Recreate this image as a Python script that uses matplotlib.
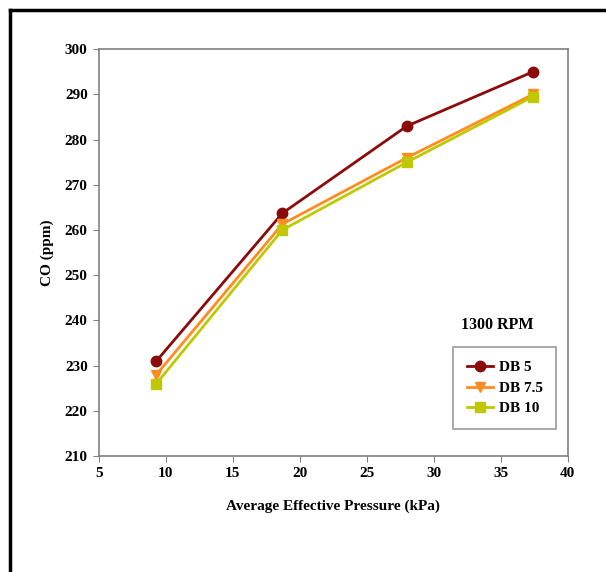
import matplotlib.pyplot as plt
from matplotlib.lines import Line2D

# data
pressure = [9.3, 18.7, 28.0, 37.4]
co_db5 = [231.0, 263.7, 283.0, 295.0]
co_db75 = [228.0, 261.3, 276.0, 290.0]
co_db10 = [226.0, 260.0, 275.0, 289.5]
series_labels = ["DB 5", "DB 7.5", "DB 10"]
x_ticks = [5, 10, 15, 20, 25, 30, 35, 40]
y_ticks = [210, 220, 230, 240, 250, 260, 270, 280, 290, 300]

plt.rcParams['font.family'] = ['Liberation Serif', 'DejaVu Serif']
plt.rcParams['font.weight'] = 'bold'

fig = plt.figure(figsize=(6.06, 5.72), dpi=100)
ax = fig.add_axes([0.163, 0.203, 0.774, 0.711])

ax.plot(pressure, co_db5, color='#8b0a0a', lw=2, marker='o', ms=7.5, label=series_labels[0])
ax.plot(pressure, co_db75, color='#ff8c1e', lw=2, marker='v', ms=7.5, label=series_labels[1])
ax.plot(pressure, co_db10, color='#bfc800', lw=2, marker='s', ms=7.5, label=series_labels[2])

ax.set_xlim(5, 40)
ax.set_ylim(210, 300)
ax.set_xticks(x_ticks)
ax.set_yticks(y_ticks)
for s in ax.spines.values():
    s.set_color('#808080')
    s.set_linewidth(1.2)
ax.tick_params(direction='out', length=4, color='#808080', labelsize=11, pad=4)
for t in ax.get_xticklabels() + ax.get_yticklabels():
    t.set_fontweight('bold')

ax.set_xlabel('Average Effective Pressure (kPa)', fontsize=11, fontweight='bold', labelpad=14)
ax.set_ylabel('CO (ppm)', fontsize=11, fontweight='bold', labelpad=8)

ax.text(0.849, 0.322, '1300 RPM', transform=ax.transAxes, ha='center', va='center',
        fontsize=11.5, fontweight='bold')
leg = ax.legend(loc='upper left', bbox_to_anchor=(0.755, 0.268), fontsize=11,
                frameon=True, fancybox=False, handlelength=1.7, borderpad=0.9,
                labelspacing=0.45, handletextpad=0.4, borderaxespad=0)
leg.get_frame().set_edgecolor('#808080')
leg.get_frame().set_linewidth(1.2)
for t in leg.get_texts():
    t.set_fontweight('bold')

# black frame on left and top edges of the picture
fig.add_artist(Line2D([0.017, 0.017], [0.0, 0.983], color='black', lw=2.5, transform=fig.transFigure))
fig.add_artist(Line2D([0.017, 1.0], [0.983, 0.983], color='black', lw=2.5, transform=fig.transFigure))

fig.savefig('out.png', dpi=100)
